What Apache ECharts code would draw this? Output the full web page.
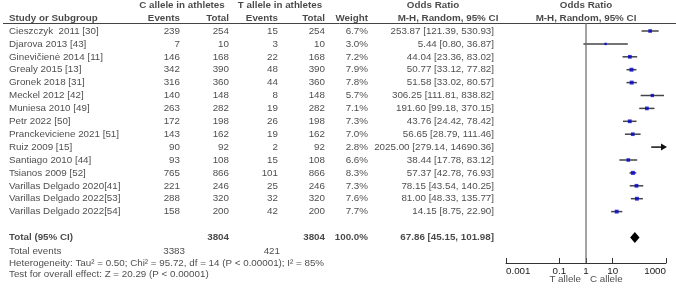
<!DOCTYPE html>
<html>
<head>
<meta charset="utf-8">
<script src="https://cdn.jsdelivr.net/npm/echarts@6/dist/echarts.min.js"></script>
<style>
html,body{margin:0;padding:0;background:#fff;}
#chart{width:676px;height:288px;}
</style>
</head>
<body>
<div id="chart"></div>
<script>
// ---------- data ----------
const studies = ['Cieszczyk  2011 [30]','Djarova 2013 [43]','Ginevičienė 2014 [11]','Grealy 2015 [13]','Gronek 2018 [31]','Meckel 2012 [42]','Muniesa 2010 [49]','Petr 2022 [50]','Pranckeviciene 2021 [51]','Ruiz 2009 [15]','Santiago 2010 [44]','Tsianos 2009 [52]','Varillas Delgado 2020[41]','Varillas Delgado 2022[53]','Varillas Delgado 2022[54]'];
const eventsC = [239,7,146,342,316,140,263,172,143,90,93,765,221,288,158];
const totalC  = [254,10,168,390,360,148,282,198,162,92,108,866,246,320,200];
const eventsT = [15,3,22,48,44,8,19,26,19,2,15,101,25,32,42];
const totalT  = [254,10,168,390,360,148,282,198,162,92,108,866,246,320,200];
const weights = [6.7,3.0,7.2,7.9,7.8,5.7,7.1,7.3,7.0,2.8,6.6,8.3,7.3,7.6,7.7];
const orEst = [253.87,5.44,44.04,50.77,51.58,306.25,191.60,43.76,56.65,2025.00,38.44,57.37,78.15,81.00,14.15];
const orLo  = [121.39,0.80,23.36,33.12,33.02,111.81,99.18,24.42,28.79,279.14,17.78,42.78,43.54,48.33,8.75];
const orHi  = [530.93,36.87,83.02,77.82,80.57,838.82,370.15,78.42,111.46,14690.36,83.12,76.93,140.25,135.77,22.90];
const totalSizeC = 3804, totalSizeT = 3804, totalWeight = 100.0;
const totalEventsC = 3383, totalEventsT = 421;
const pooled = {est: 67.86, lo: 45.15, hi: 101.98};
const heterogeneityText = 'Heterogeneity: Tau² = 0.50; Chi² = 95.72, df = 14 (P < 0.00001); I² = 85%';
const overallText = 'Test for overall effect: Z = 20.29 (P < 0.00001)';
const xTicks = [0.001, 0.1, 1, 10, 1000];
const xTickLabels = ['0.001','0.1','1','10','1000'];
const favourLeft = 'T allele', favourRight = 'C allele';

// ---------- layout ----------
const ROW0 = 31, PITCH = 12.9;
const yMin = -ROW0 / PITCH;
const yMaxTable = (288 - ROW0) / PITCH;
const yMaxForest = (263 - ROW0) / PITCH;
const FS = 9.8;
const FONT = '"Liberation Sans", Arial, sans-serif';
const TXT = '#1a1a1a';
const lg = v => Math.log10(v);
const f2 = v => v.toFixed(2);
const orText = (e, l, h) => f2(e) + ' [' + f2(l) + ', ' + f2(h) + ']';

const ROW_TOTAL = 16, ROW_EVENTS = 17.1, ROW_HET = 18, ROW_TEST = 18.85, ROW_FAV = 19.25;
const COL = {name: 9, evC: 180, totC: 229, evT: 278, totT: 325, w: 368, or: 494};

function textSeries(items, align, bold) {
  return {
    type: 'scatter', xAxisIndex: 0, yAxisIndex: 0, silent: true,
    symbol: 'rect', symbolSize: 1,
    itemStyle: {color: 'rgba(0,0,0,0)'},
    data: items.map(it => ({value: [it[0], it[1]], name: String(it[2])})),
    label: {show: true, position: 'inside', align: align, verticalAlign: 'middle',
      formatter: '{b}', fontSize: FS, fontFamily: FONT, color: TXT,
      fontWeight: bold ? 'bold' : 'normal'},
    z: 5
  };
}

const leftItems = [], rightItems = [], boldLeft = [], boldRight = [], boldCenter = [];
studies.forEach((s, i) => {
  leftItems.push([COL.name, i, s]);
  rightItems.push([COL.evC, i, eventsC[i]]);
  rightItems.push([COL.totC, i, totalC[i]]);
  rightItems.push([COL.evT, i, eventsT[i]]);
  rightItems.push([COL.totT, i, totalT[i]]);
  rightItems.push([COL.w, i, weights[i].toFixed(1) + '%']);
  rightItems.push([COL.or, i, orText(orEst[i], orLo[i], orHi[i])]);
});
// headers
boldCenter.push([182, -2, 'C allele in athletes']);
boldCenter.push([280, -2, 'T allele in athletes']);
boldCenter.push([433, -2, 'Odds Ratio']);
boldCenter.push([586, -2, 'Odds Ratio']);
boldLeft.push([COL.name, -1, 'Study or Subgroup']);
boldRight.push([COL.evC, -1, 'Events']);
boldRight.push([COL.totC, -1, 'Total']);
boldRight.push([COL.evT, -1, 'Events']);
boldRight.push([COL.totT, -1, 'Total']);
boldRight.push([COL.w, -1, 'Weight']);
boldCenter.push([448, -1, 'M-H, Random, 95% CI']);
boldCenter.push([586, -1, 'M-H, Random, 95% CI']);
// totals
boldLeft.push([COL.name, ROW_TOTAL, 'Total (95% CI)']);
boldRight.push([COL.totC, ROW_TOTAL, totalSizeC]);
boldRight.push([COL.totT, ROW_TOTAL, totalSizeT]);
boldRight.push([COL.w, ROW_TOTAL, totalWeight.toFixed(1) + '%']);
boldRight.push([COL.or, ROW_TOTAL, orText(pooled.est, pooled.lo, pooled.hi)]);
leftItems.push([COL.name, ROW_EVENTS, 'Total events']);
rightItems.push([185, ROW_EVENTS, totalEventsC]);
rightItems.push([280, ROW_EVENTS, totalEventsT]);
leftItems.push([COL.name, ROW_HET, heterogeneityText]);
leftItems.push([COL.name, ROW_TEST, overallText]);
rightItems.push([581, ROW_FAV, favourLeft]);
leftItems.push([590, ROW_FAV, favourRight]);

const ciData = studies.map((s, i) => [lg(orLo[i]), lg(orHi[i]), lg(orEst[i]), i]);
const sqData = studies.map((s, i) => ({value: [lg(orEst[i]), i], symbolSize: 1.4 * Math.sqrt(weights[i])}));

const option = {
  animation: false,
  backgroundColor: '#ffffff',
  grid: [
    {left: 0, top: 0, width: 676, height: 288},
    {left: 506, top: 0, width: 160, height: 263}
  ],
  xAxis: [
    {gridIndex: 0, type: 'value', min: 0, max: 676, show: false},
    {gridIndex: 1, type: 'value', min: -3, max: 3, interval: 1, position: 'bottom',
      axisLine: {show: true, onZero: false, lineStyle: {color: '#333', width: 1}},
      axisTick: {show: true, inside: true, length: 5, customValues: xTicks.map(lg),
        lineStyle: {color: '#333', width: 1}},
      axisLabel: {show: true, customValues: xTicks.map(lg), margin: 3,
        fontSize: FS, fontFamily: FONT, color: TXT,
        alignMinLabel: 'left', alignMaxLabel: 'right',
        formatter: v => {
          const k = xTicks.findIndex(t => Math.abs(lg(t) - v) < 1e-6);
          return k >= 0 ? xTickLabels[k] : '';
        }},
      splitLine: {show: false}}
  ],
  yAxis: [
    {gridIndex: 0, type: 'value', min: yMin, max: yMaxTable, inverse: true, show: false},
    {gridIndex: 1, type: 'value', min: yMin, max: yMaxForest, inverse: true, show: false}
  ],
  series: [
    // header separator
    {type: 'line', xAxisIndex: 0, yAxisIndex: 0, silent: true, symbol: 'none',
      data: [[3, (23.5 - ROW0) / PITCH], [676, (23.5 - ROW0) / PITCH]],
      lineStyle: {color: '#444', width: 1}},
    // line of no effect
    {type: 'line', xAxisIndex: 1, yAxisIndex: 1, silent: true, symbol: 'none',
      data: [[0, (23 - ROW0) / PITCH], [0, yMaxForest]],
      lineStyle: {color: '#666', width: 1.2}},
    // CI lines
    {type: 'custom', xAxisIndex: 1, yAxisIndex: 1, silent: true,
      encode: {x: [0, 1, 2], y: 3},
      data: ciData,
      renderItem: (params, api) => {
        const lo = api.value(0), hi = api.value(1), row = api.value(3);
        const clipped = hi > 3;
        const p1 = api.coord([lo, row]);
        const p2 = api.coord([Math.min(hi, 3), row]);
        const children = [{type: 'line', shape: {x1: p1[0], y1: p1[1], x2: clipped ? p2[0] - 4 : p2[0], y2: p2[1]},
          style: {stroke: clipped ? '#111' : '#444', lineWidth: 1.5}}];
        if (clipped) {
          children.push({type: 'polygon', shape: {points: [[p2[0] + 1, p2[1]], [p2[0] - 5, p2[1] - 3.5], [p2[0] - 5, p2[1] + 3.5]]},
            style: {fill: '#111'}});
        }
        return {type: 'group', children};
      },
      z: 3},
    // point estimates
    {type: 'scatter', xAxisIndex: 1, yAxisIndex: 1, silent: true, symbol: 'rect', clip: true,
      data: sqData, itemStyle: {color: '#0000CC'}, z: 4},
    // pooled diamond
    {type: 'custom', xAxisIndex: 1, yAxisIndex: 1, silent: true,
      encode: {x: [0, 1, 2], y: 3},
      data: [[lg(pooled.lo), lg(pooled.hi), lg(pooled.est), ROW_TOTAL]],
      renderItem: (params, api) => {
        const row = api.value(3);
        const a = api.coord([api.value(0), row]);
        const b = api.coord([api.value(1), row]);
        const c = api.coord([api.value(2), row]);
        return {type: 'polygon', shape: {points: [[a[0], a[1]], [c[0], c[1] - 5.5], [b[0], b[1]], [c[0], c[1] + 5.5]]},
          style: {fill: '#000'}};
      },
      z: 4},
    textSeries(leftItems, 'left', false),
    textSeries(rightItems, 'right', false),
    textSeries(boldLeft, 'left', true),
    textSeries(boldRight, 'right', true),
    textSeries(boldCenter, 'center', true)
  ]
};

const chart = echarts.init(document.getElementById('chart'), null, {renderer: 'canvas'});
chart.setOption(option);
</script>
</body>
</html>
